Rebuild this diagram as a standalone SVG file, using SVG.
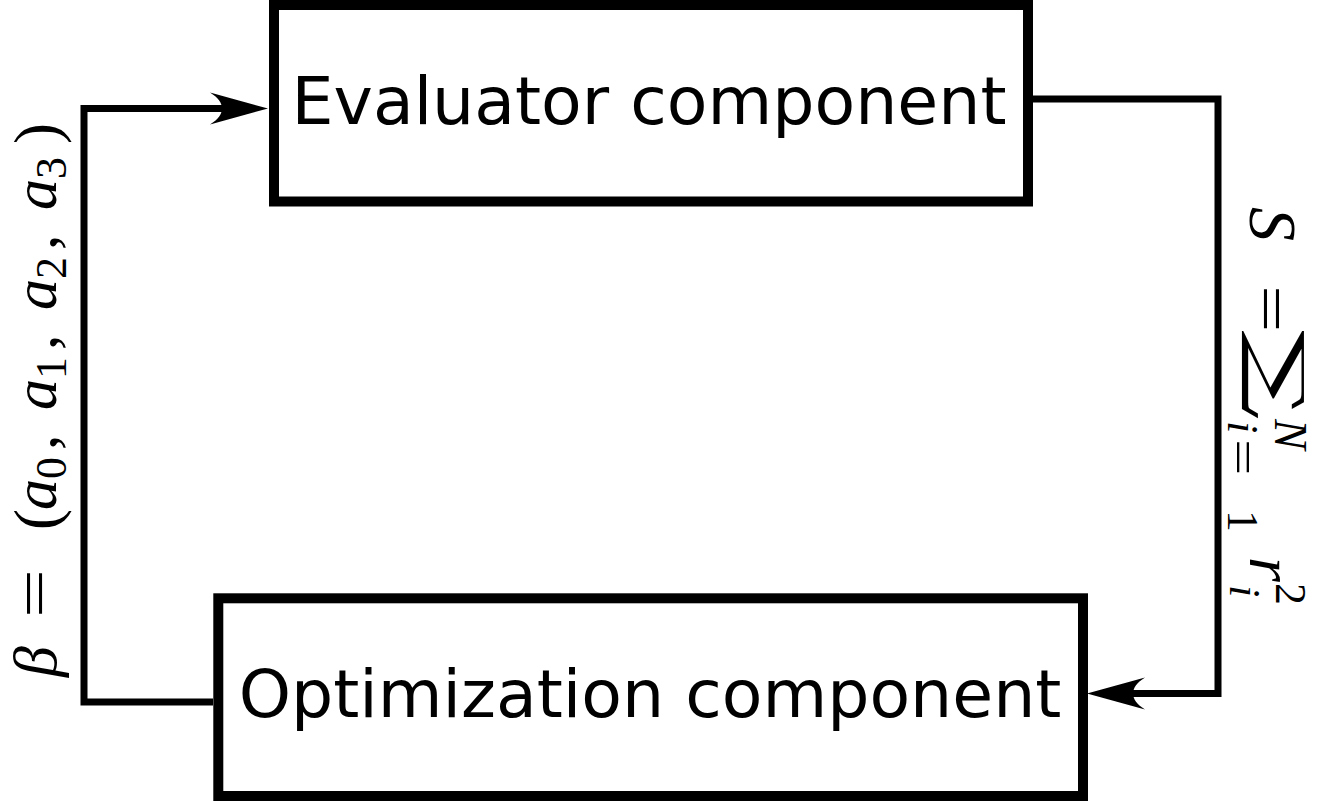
<svg xmlns="http://www.w3.org/2000/svg" width="1319" height="801" viewBox="0 0 1319 801">
  <style>
    .box { fill: #ffffff; stroke: #000000; stroke-width: 10; }
    .label { font-family: "DejaVu Sans", sans-serif; font-size: 66.5px; fill: #000000; text-anchor: middle; }
    .wire { fill: none; stroke: #000000; stroke-width: 7; stroke-linejoin: miter; }
    .head { fill: #000000; stroke: none; }
    .m { font-family: "Liberation Serif", "DejaVu Serif", serif; fill: #000000; }
    .mi { font-style: italic; }
    .op { font-family: "DejaVu Serif", serif; fill: #000000; }
  </style>
  <defs>
    <!-- arrowhead with concave back, tip at origin pointing +x -->
    <path id="arrowHead" d="M0,0 L-58,-16 C-42,-6 -42,6 -58,16 Z"/>
  </defs>

  <!-- connectors -->
  <g id="connectors">
    <path class="wire" d="M213,702 H84 V108.5 H240"/>
    <use href="#arrowHead" class="head" transform="translate(268,108.5)"/>
    <path class="wire" d="M1033,99 H1218 V693.5 H1115"/>
    <use href="#arrowHead" class="head" transform="translate(1087,693.5) rotate(180)"/>
  </g>

  <!-- evaluator node -->
  <g id="evaluator">
    <rect class="box" x="274" y="5" width="754" height="196.5"/>
    <text class="label" x="649" y="124">Evaluator component</text>
  </g>

  <!-- optimization node -->
  <g id="optimization">
    <rect class="box" x="218.3" y="598.3" width="864.7" height="197.7"/>
    <text class="label" x="650" y="717">Optimization component</text>
  </g>

  <!-- parameter vector, read bottom to top -->
  <g id="label-beta" transform="translate(56,680) rotate(-90)">
    <text class="m mi" x="3" y="0" font-size="62">β</text>
    <text class="m" transform="translate(62,-1) scale(1.4,1)" font-size="62">=</text>
    <text class="m" x="150" y="2" font-size="63">(</text>
    <text class="m mi" x="170" y="0" font-size="62">a</text>
    <text class="m" x="201" y="10" font-size="44">0</text>
    <text class="m" x="230" y="0" font-size="62">,</text>
    <text class="m mi" x="270" y="0" font-size="62">a</text>
    <text class="m" x="301" y="10" font-size="44">1</text>
    <text class="m" x="330" y="0" font-size="62">,</text>
    <text class="m mi" x="370" y="0" font-size="62">a</text>
    <text class="m" x="401" y="10" font-size="44">2</text>
    <text class="m" x="430" y="0" font-size="62">,</text>
    <text class="m mi" x="470" y="0" font-size="62">a</text>
    <text class="m" x="501" y="10" font-size="44">3</text>
    <text class="m" x="536" y="2" font-size="63">)</text>
  </g>

  <!-- residual sum, read top to bottom -->
  <g id="label-sum" transform="translate(1250,205) rotate(90)">
    <text class="m mi" x="2" y="0" font-size="68">S</text>
    <text class="m" transform="translate(80,-1) scale(1.35,1)" font-size="62">=</text>
    <text class="op" transform="translate(125,-5) scale(1.85,1)" font-size="68">∑</text>
    <text class="m mi" x="214" y="-25" font-size="46">N</text>
    <text class="m mi" x="216" y="22" font-size="44">i</text>
    <text class="m" transform="translate(234,22) scale(1.4,1)" font-size="46">=</text>
    <text class="m" x="305" y="22" font-size="44">1</text>
    <text class="m mi" x="352" y="0" font-size="64">r</text>
    <text class="m mi" x="380" y="20" font-size="44">i</text>
    <text class="m" x="378" y="-26" font-size="44">2</text>
  </g>
</svg>
